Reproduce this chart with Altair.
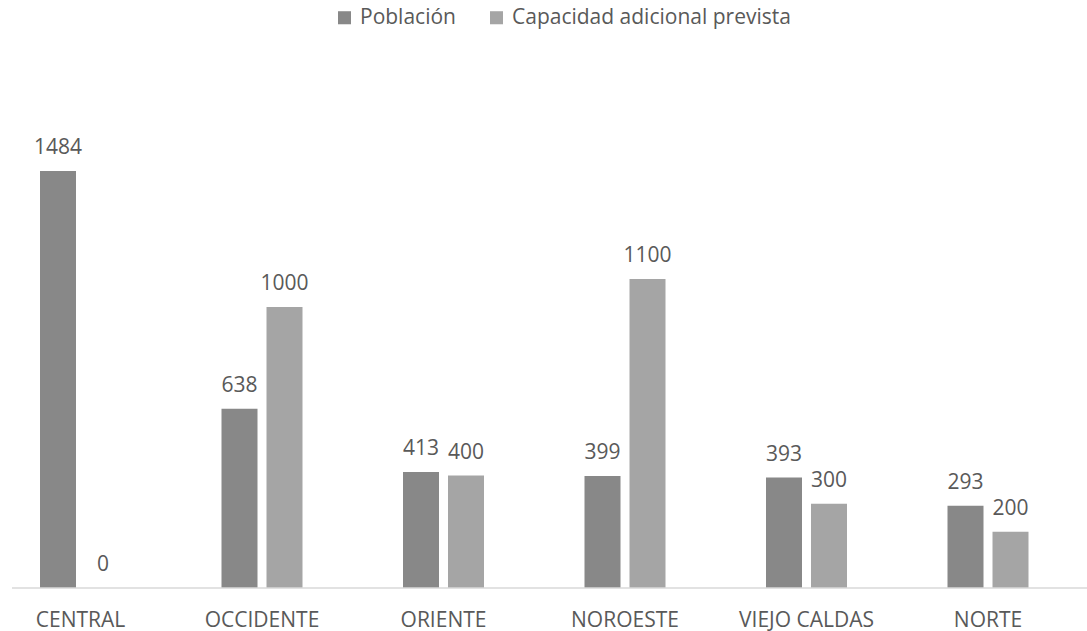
import altair as alt
import pandas as pd

categories = ["CENTRAL", "OCCIDENTE", "ORIENTE", "NOROESTE", "VIEJO CALDAS", "NORTE"]
poblacion = [1484, 638, 413, 399, 393, 293]
capacidad = [0, 1000, 400, 1100, 300, 200]
series = ["Población", "Capacidad adicional prevista"]
colors = ["#888888", "#a5a5a5"]

rows = []
for c, p, k in zip(categories, poblacion, capacidad):
    rows.append({"region": c, "serie": series[0], "valor": p})
    rows.append({"region": c, "serie": series[1], "valor": k})
df = pd.DataFrame(rows)

W, H = 1087, 588
ymax = H / 0.281
FONT = "Open Sans"
TXT = "#595959"

x = alt.X("region:N", sort=categories, title=None,
          scale=alt.Scale(range=[-10.25, 1078.75], paddingInner=0, paddingOuter=0),
          axis=alt.Axis(domain=False, ticks=False, labelFontSize=21, labelColor=TXT,
                        labelFont=FONT, labelPadding=21, labelAngle=0, labelOverlap=False,
                        labelLimit=300))
xo = alt.XOffset("serie:N", sort=series,
                 scale=alt.Scale(range=[50.25, 131.25], paddingInner=0.2, paddingOuter=0))
y = alt.Y("valor:Q", scale=alt.Scale(domain=[0, ymax], nice=False, zero=True), axis=None)

base = alt.Chart(df)

bars = base.mark_bar().encode(
    x=x, xOffset=xo, y=y,
    color=alt.Color("serie:N", sort=series,
                    scale=alt.Scale(domain=series, range=colors),
                    legend=alt.Legend(title=None, orient="none", direction="horizontal",
                                      legendX=334, legendY=7, symbolType="square",
                                      symbolSize=170, symbolStrokeWidth=0,
                                      labelFontSize=21, labelFont=FONT, labelColor=TXT,
                                      labelOffset=5, columnPadding=30, labelLimit=500)),
)

labels = base.mark_text(fontSize=21, font=FONT, color=TXT, baseline="alphabetic", dy=-17).encode(
    x=x, xOffset=xo, y=y, text=alt.Text("valor:Q")
)

axis_line = alt.Chart(alt.Data(values=[{}])).mark_rule(color="#d9d9d9", strokeWidth=1.5).encode(
    x=alt.value(12), x2=alt.value(W), y=alt.value(H)
)

chart = alt.layer(bars, axis_line, labels).properties(
    width=W, height=H,
    padding={"left": 0, "top": 0, "right": 0, "bottom": 43},
    autosize=alt.AutoSizeParams(type="none"),
    background="white"
).configure_view(stroke=None)

chart.save("out.html", embed_options={"renderer": "svg", "actions": False})
